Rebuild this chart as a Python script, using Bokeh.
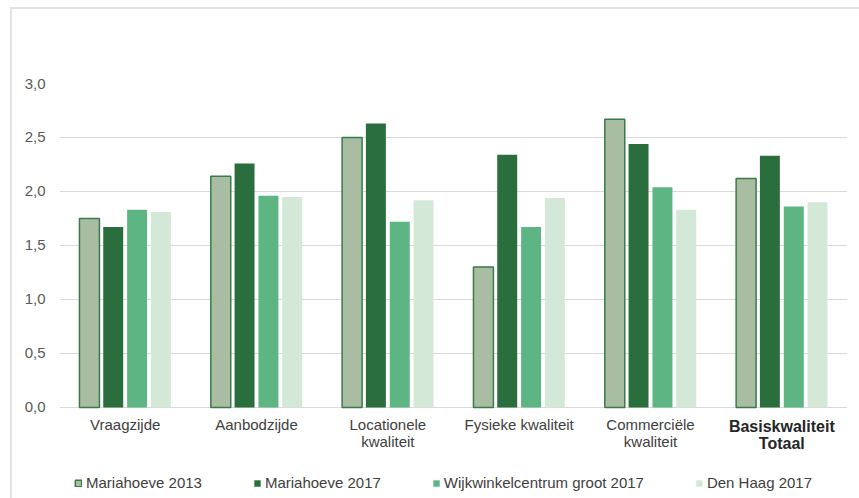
from bokeh.plotting import figure
from bokeh.models import ColumnDataSource, FactorRange, FixedTicker, CustomJSTickFormatter
from bokeh.core.properties import value
from bokeh.transform import dodge
from bokeh.embed import file_html
from bokeh.resources import INLINE

categories = ["Vraagzijde", "Aanbodzijde", "Locationele\nkwaliteit", "Fysieke kwaliteit",
              "Commerciële\nkwaliteit", "Basiskwaliteit\nTotaal"]
series_names = ["Mariahoeve 2013", "Mariahoeve 2017", "Wijkwinkelcentrum groot 2017", "Den Haag 2017"]
mariahoeve_2013 = [1.75, 2.14, 2.50, 1.30, 2.67, 2.12]
mariahoeve_2017 = [1.67, 2.26, 2.63, 2.34, 2.44, 2.33]
wijkwinkelcentrum_2017 = [1.83, 1.96, 1.72, 1.67, 2.04, 1.86]
den_haag_2017 = [1.81, 1.95, 1.92, 1.94, 1.83, 1.90]
y_ticks = [0.0, 0.5, 1.0, 1.5, 2.0, 2.5, 3.0]

FONT = "Liberation Sans"
src = ColumnDataSource(dict(cat=categories, s0=mariahoeve_2013, s1=mariahoeve_2017,
                            s2=wijkwinkelcentrum_2017, s3=den_haag_2017))

# the frame extends below zero to hold the category labels and the legend
p = figure(x_range=FactorRange(*categories, range_padding=0), y_range=(-0.843, 3.0),
           width=859, height=498, output_backend="svg", toolbar_location=None,
           min_border_left=59, min_border_right=12, min_border_top=83, min_border_bottom=0)
p.border_fill_color = None
p.background_fill_color = "white"
p.styles = {"background": "linear-gradient(#e3e3e3, #e3e3e3) 10px 7px / 100% 2px no-repeat, "
                          "linear-gradient(#e3e3e3, #e3e3e3) 10px 7px / 2px 100% no-repeat, white"}

fills = ["#a9bda2", "#2b6e3e", "#5db583", "#d4e8d7"]
lines = ["#3a7a4a", None, None, None]
offsets = [-0.272, -0.091, 0.091, 0.272]
for i, name in enumerate(series_names):
    p.vbar(x=dodge("cat", offsets[i], range=p.x_range), top="s%d" % i, width=0.152, bottom=0,
           source=src, fill_color=fills[i], line_color=lines[i],
           line_width=1.5 if lines[i] else 0, legend_label=name)

p.outline_line_color = None
p.xgrid.grid_line_color = None
p.ygrid.grid_line_color = "#d9d9d9"
p.ygrid.ticker = FixedTicker(ticks=y_ticks)
p.xaxis.visible = False

p.yaxis.ticker = FixedTicker(ticks=y_ticks)
p.yaxis.formatter = CustomJSTickFormatter(code="return tick.toFixed(1).replace('.', ',');")
p.yaxis.axis_line_color = None
p.yaxis.major_tick_line_color = None
p.yaxis.minor_tick_line_color = None
p.yaxis.major_label_standoff = 8
p.yaxis.major_label_text_font = FONT
p.yaxis.major_label_text_font_size = "15px"
p.yaxis.major_label_text_color = "#595959"

# category labels under the zero line
LABEL_Y = -0.083
BOLD_Y = -0.102
p.text(x=categories[:-1], y=[LABEL_Y] * (len(categories) - 1), text=categories[:-1],
       text_align="center", text_baseline="top", text_font=value(FONT),
       text_font_size="15px", text_line_height=1.0, text_color="#404040")
p.text(x=categories[-1:], y=[BOLD_Y], text=categories[-1:],
       text_align="center", text_baseline="top", text_font=value(FONT),
       text_font_size="16px", text_font_style="bold", text_line_height=1.0,
       text_color="#262626")

lg = p.legend[0]
lg.orientation = "horizontal"
lg.location = (15, 7)
lg.background_fill_alpha = 0
lg.border_line_color = None
lg.padding = 0
lg.margin = 0
lg.spacing = 51
lg.glyph_width = 8
lg.glyph_height = 8
lg.label_standoff = 4
lg.label_height = 17
lg.label_text_font = FONT
lg.label_text_font_size = "15px"
lg.label_text_color = "#404040"

open("out.html", "w").write(file_html(p, INLINE))
